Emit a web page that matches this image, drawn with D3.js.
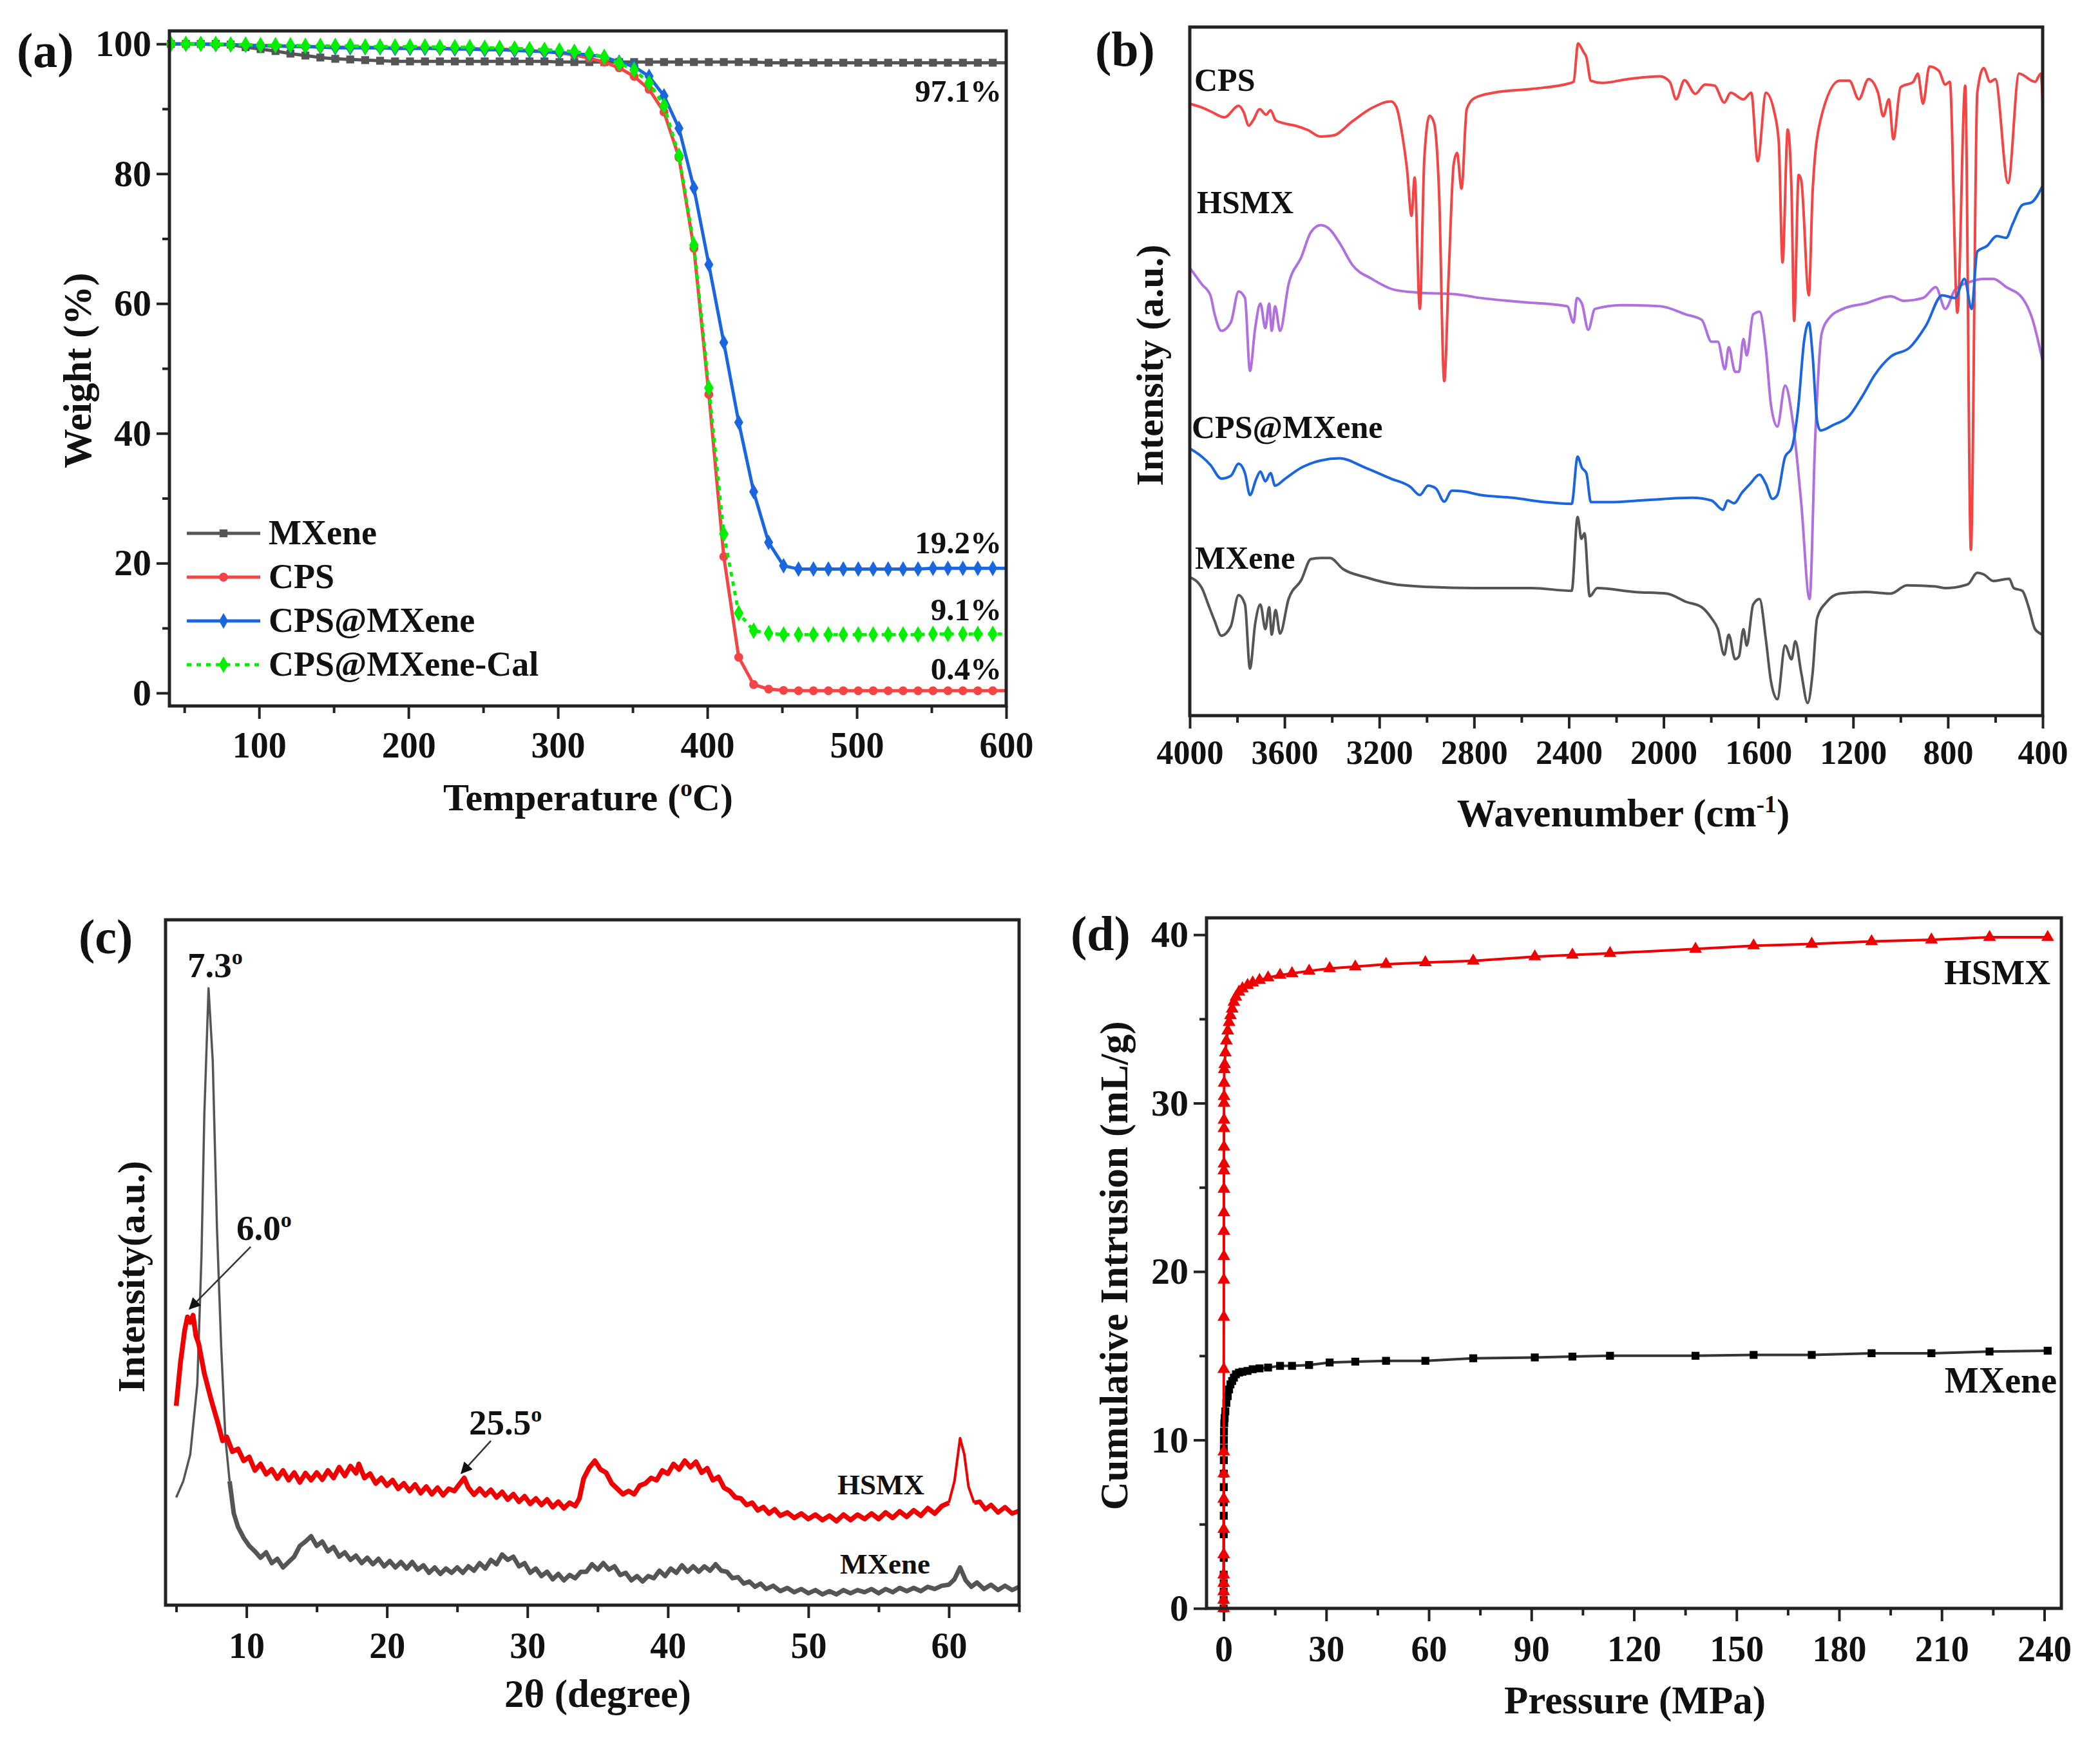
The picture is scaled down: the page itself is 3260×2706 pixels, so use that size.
<!DOCTYPE html>
<html>
<head>
<meta charset="utf-8">
<script src="https://cdn.jsdelivr.net/npm/d3@7/dist/d3.min.js"></script>
<style>
body { margin: 0; background: #fff; }
text { font-family: "Liberation Serif", serif; font-weight: bold; fill: #111; }
</style>
</head>
<body>
<svg id="fig" width="3260" height="2706"></svg>
<script>
// (a) TGA
const tgaTemp = [41,51,61,71,81,91,101,111,121,131,141,151,161,171,181,191,201,211,221,231,241,251,261,271,281,291,301,311,321,331,341,351,361,371,381,391,401,411,421,431,441,451,461,471,481,491,501,511,521,531,541,551,561,571,581,591,600];
const tgaMXene = [100,100,100,100,99.9,99.5,99.2,98.9,98.5,98.2,97.9,97.7,97.6,97.5,97.4,97.3,97.3,97.3,97.3,97.3,97.3,97.3,97.3,97.3,97.3,97.3,97.2,97.2,97.2,97.2,97.2,97.2,97.2,97.2,97.2,97.2,97.2,97.2,97.2,97.2,97.1,97.1,97.1,97.1,97.1,97.1,97.1,97.1,97.1,97.1,97.1,97.1,97.1,97.1,97.1,97.1,97.1];
const tgaCPS = [100,100,100,99.9,99.9,99.8,99.8,99.7,99.7,99.6,99.6,99.5,99.5,99.5,99.4,99.4,99.4,99.4,99.3,99.3,99.3,99.2,99.2,99.1,99,98.8,98.6,98.3,97.8,97.2,96.3,95,93,89.5,82.5,68.5,46,21,5.5,1.3,0.6,0.4,0.35,0.35,0.35,0.35,0.35,0.35,0.35,0.35,0.35,0.35,0.35,0.35,0.35,0.35,0.35];
const tgaComposite = [100,100,100,99.9,99.9,99.8,99.7,99.7,99.6,99.6,99.5,99.4,99.4,99.4,99.4,99.3,99.3,99.3,99.3,99.2,99.2,99.1,99.1,99,98.9,98.8,98.7,98.5,98.3,98,97.2,96.5,95,92,87,77.8,66,54,41.7,31,23.2,19.6,19.1,19.1,19.1,19.1,19.1,19.1,19.1,19.1,19.1,19.2,19.2,19.2,19.2,19.2,19.2];
const tgaCalc = [100,100,100,100,99.9,99.9,99.8,99.8,99.8,99.7,99.7,99.7,99.7,99.6,99.6,99.6,99.6,99.6,99.5,99.5,99.5,99.4,99.4,99.3,99.2,99.1,99,98.8,98.5,98,97,96,94,90.5,82.8,69,47,24.5,12.3,9.6,9.2,9,9,9,9,9,9,9,9,9,9,9.1,9.1,9.1,9.1,9.1,9.1];

// (b) FTIR, [wavenumber, intensity]
const ftirCPS = [[4000,1118],[3949,1111],[3908,1103],[3854,1093],[3794,1114],[3773,1103],[3751,1078],[3732,1088],[3705,1108],[3678,1098],[3659,1106],[3638,1088],[3610,1083],[3556,1078],[3502,1070],[3448,1058],[3394,1060],[3313,1086],[3232,1110],[3151,1122],[3129,1113],[3102,1058],[3083,998],[3064,913],[3051,983],[3029,743],[3010,1018],[2988,1096],[2969,1083],[2948,958],[2926,611],[2907,808],[2886,1008],[2872,1028],[2853,963],[2831,1108],[2799,1128],[2718,1138],[2556,1145],[2399,1155],[2380,1158],[2361,1228],[2339,1213],[2326,1203],[2307,1160],[2258,1156],[2150,1163],[2015,1168],[1974,1158],[1947,1126],[1912,1161],[1866,1136],[1825,1153],[1785,1151],[1744,1120],[1717,1138],[1663,1126],[1630,1138],[1603,1013],[1568,1138],[1533,1103],[1514,1048],[1498,828],[1476,1071],[1460,958],[1449,721],[1430,988],[1419,978],[1387,768],[1371,958],[1338,1088],[1257,1160],[1216,1160],[1176,1126],[1135,1163],[1095,1138],[1073,1095],[1049,1126],[1030,1053],[1000,1148],[946,1158],[927,1173],[905,1118],[878,1186],[838,1178],[811,1153],[792,1158],[760,736],[727,1151],[703,303],[676,1138],[649,1183],[622,1158],[600,1163],[546,973],[500,1173],[432,1158],[408,1173],[400,1118]];
const ftirHSMX = [[4000,818],[3949,788],[3913,768],[3895,733],[3867,703],[3827,718],[3794,775],[3767,763],[3746,630],[3724,708],[3702,753],[3681,708],[3665,753],[3654,703],[3640,748],[3619,703],[3583,788],[3529,838],[3489,883],[3448,896],[3408,888],[3367,863],[3313,823],[3232,798],[3137,778],[3042,773],[2880,770],[2772,763],[2610,756],[2407,748],[2380,718],[2366,763],[2345,753],[2318,705],[2290,743],[2177,750],[2015,748],[1906,733],[1839,723],[1798,683],[1771,683],[1741,633],[1725,673],[1698,628],[1682,628],[1663,688],[1649,658],[1622,733],[1595,738],[1568,668],[1547,568],[1520,528],[1487,603],[1455,538],[1419,388],[1384,213],[1360,508],[1333,698],[1298,728],[1244,743],[1149,753],[1041,766],[987,758],[905,763],[851,783],[811,743],[770,778],[703,793],[649,798],[608,798],[554,783],[486,763],[446,728],[400,648]];
const ftirComposite = [[4000,488],[3949,473],[3913,458],[3867,433],[3827,438],[3794,460],[3767,443],[3746,403],[3719,433],[3702,446],[3681,428],[3659,443],[3640,420],[3597,433],[3529,453],[3448,466],[3367,470],[3259,453],[3151,433],[3069,418],[3029,403],[2994,420],[2961,415],[2926,391],[2894,411],[2853,410],[2772,403],[2637,398],[2501,390],[2388,387],[2363,473],[2345,453],[2326,443],[2307,390],[2231,390],[2069,394],[1879,398],[1798,393],[1749,376],[1730,393],[1703,388],[1668,408],[1636,423],[1595,440],[1568,423],[1541,396],[1520,403],[1487,473],[1460,488],[1433,558],[1406,688],[1387,718],[1371,658],[1352,538],[1338,521],[1284,531],[1216,548],[1162,583],[1108,623],[1041,656],[960,673],[892,713],[824,768],[770,763],[730,798],[700,743],[676,848],[635,858],[594,876],[554,873],[527,898],[486,933],[446,938],[400,968]];
const ftirMXene = [[4000,253],[3949,233],[3922,203],[3895,173],[3867,146],[3827,163],[3794,220],[3767,203],[3746,86],[3724,168],[3702,203],[3681,158],[3665,198],[3654,148],[3638,193],[3619,150],[3583,213],[3529,248],[3489,286],[3448,288],[3408,288],[3354,268],[3259,253],[3137,240],[2988,235],[2772,233],[2556,233],[2388,228],[2363,363],[2347,323],[2334,333],[2312,218],[2280,233],[2123,226],[1987,223],[1906,208],[1839,198],[1798,178],[1771,158],[1744,111],[1725,148],[1698,103],[1682,108],[1663,158],[1649,128],[1622,203],[1595,213],[1568,138],[1547,63],[1520,30],[1487,128],[1460,103],[1444,136],[1419,78],[1392,23],[1371,78],[1352,178],[1311,208],[1257,223],[1149,226],[1041,223],[973,238],[851,236],[811,233],[716,240],[676,261],[649,258],[608,246],[541,250],[522,233],[486,228],[459,198],[432,158],[400,148]];

// (c) XRD, [2theta, intensity]
const xrdHSMX = [[5,370],[5.3,450],[5.6,510],[5.8,535],[6,525],[6.2,538],[6.4,500],[6.6,485],[7,430],[7.5,380],[8,335],[8.3,305],[8.6,312],[9,285],[9.4,290],[9.8,268],[10.2,275],[10.6,250],[11,262],[11.4,243],[11.8,252],[12.2,235],[12.6,250],[13,232],[13.4,246],[13.8,228],[14.2,245],[14.6,232],[15,246],[15.4,233],[15.8,250],[16.2,236],[16.6,256],[17,240],[17.4,258],[17.8,245],[18,262],[18.4,236],[18.8,244],[19.2,226],[19.6,236],[20,222],[20.4,232],[20.8,216],[21.2,226],[21.6,212],[22,224],[22.4,208],[22.8,220],[23.2,206],[23.6,218],[24,204],[24.4,216],[24.8,212],[25.2,226],[25.5,236],[25.8,218],[26.2,205],[26.6,216],[27,204],[27.4,214],[27.8,200],[28.2,210],[28.6,196],[29,206],[29.4,192],[29.8,202],[30.2,188],[30.6,198],[31,186],[31.4,196],[31.8,182],[32.2,192],[32.6,180],[33,190],[33.4,184],[33.7,198],[34,235],[34.4,255],[34.8,268],[35.2,252],[35.6,246],[36,226],[36.4,216],[36.8,206],[37.2,212],[37.6,206],[38,222],[38.4,226],[38.8,236],[39.2,232],[39.6,250],[40,244],[40.4,262],[40.8,252],[41.2,268],[41.6,256],[42,266],[42.4,246],[42.8,254],[43.2,232],[43.6,238],[44,218],[44.4,212],[44.8,200],[45.2,198],[45.6,186],[46,190],[46.4,176],[46.8,182],[47.2,170],[47.6,178],[48,166],[48.5,172],[49,162],[49.5,170],[50,160],[50.5,168],[51,158],[51.5,166],[52,156],[52.5,168],[53,158],[53.5,168],[54,160],[54.5,170],[55,160],[55.5,172],[56,162],[56.5,174],[57,164],[57.5,176],[58,166],[58.5,180],[59,170],[59.5,184],[60,190],[60.4,230],[60.8,310],[61.1,280],[61.4,220],[61.8,190],[62.2,192],[62.6,178],[63,186],[63.5,172],[64,182],[64.5,170],[65,175]];
const xrdMXene = [[5,200],[5.5,230],[6,280],[6.5,410],[6.8,650],[7,910],[7.3,1145],[7.6,1010],[7.9,700],[8.2,480],[8.5,310],[8.8,230],[9.1,170],[9.4,145],[9.8,125],[10.2,110],[10.6,100],[11,88],[11.4,98],[11.8,78],[12.2,86],[12.6,70],[13,80],[13.4,90],[13.8,110],[14.2,118],[14.6,128],[15,110],[15.4,118],[15.8,100],[16.2,108],[16.6,90],[17,98],[17.4,84],[17.8,92],[18.2,78],[18.6,88],[19,76],[19.4,86],[19.8,72],[20.2,82],[20.6,70],[21,80],[21.4,68],[21.8,80],[22.2,66],[22.6,74],[23,60],[23.4,70],[23.8,58],[24.2,68],[24.6,60],[25,70],[25.4,60],[25.8,72],[26.2,64],[26.6,78],[27,68],[27.4,84],[27.8,76],[28.2,94],[28.6,84],[29,90],[29.4,72],[29.8,78],[30.2,60],[30.6,68],[31,54],[31.4,62],[31.8,48],[32.2,58],[32.6,46],[33,56],[33.4,50],[33.8,62],[34.2,62],[34.6,76],[35,66],[35.4,78],[35.8,66],[36.2,72],[36.6,56],[37,60],[37.4,46],[37.8,54],[38.2,44],[38.6,54],[39,50],[39.4,64],[39.8,54],[40.2,68],[40.6,60],[41,74],[41.4,62],[41.8,72],[42.2,62],[42.6,72],[43,64],[43.4,76],[43.8,64],[44.2,62],[44.6,50],[45,52],[45.4,40],[45.8,44],[46.2,34],[46.6,40],[47,30],[47.5,36],[48,26],[48.5,32],[49,24],[49.5,30],[50,22],[50.5,28],[51,20],[51.5,26],[52,20],[52.5,28],[53,22],[53.5,28],[54,24],[54.5,30],[55,22],[55.5,30],[56,24],[56.5,32],[57,26],[57.5,32],[58,26],[58.5,34],[59,30],[59.5,36],[60,38],[60.4,48],[60.8,70],[61.2,46],[61.6,34],[62,42],[62.5,30],[63,38],[63.5,28],[64,36],[64.5,28],[65,34]];

// (d) Intrusion
const hgHSMX = [[0,0],[0.01,0.5],[0.01,1],[0.02,1.5],[0.02,2],[0.03,3.2],[0.03,4.7],[0.04,6.5],[0.04,8],[0.05,9.3],[0.05,14.2],[0.06,17.3],[0.06,19.5],[0.07,20.9],[0.07,22.4],[0.08,23.5],[0.08,24.9],[0.09,26],[0.09,26.4],[0.1,27.4],[0.1,28.5],[0.11,29],[0.12,30],[0.13,30.4],[0.15,31.2],[0.18,32],[0.3,32.3],[0.5,33],[0.8,33.7],[1.2,34.3],[1.6,34.8],[2,35.2],[2.5,35.6],[3,36],[3.6,36.3],[4.5,36.6],[5.5,36.8],[7,37],[8.5,37.15],[10.5,37.3],[13,37.45],[16.5,37.6],[20,37.7],[25,37.85],[31,38],[38.5,38.1],[47.5,38.25],[59,38.35],[73,38.45],[91,38.7],[102,38.8],[113,38.9],[138,39.15],[155,39.35],[172,39.45],[189.5,39.6],[207,39.7],[224,39.85],[241,39.85]];
const hgMXene = [[0,0],[0.01,0.5],[0.01,1],[0.02,1.5],[0.02,2],[0.03,3],[0.03,4.4],[0.04,5.5],[0.04,6.3],[0.05,7.2],[0.05,8],[0.06,8.8],[0.07,9.5],[0.08,10],[0.1,10.5],[0.18,11],[0.3,11.3],[0.5,11.7],[0.8,12.2],[1.2,12.6],[1.6,13],[2,13.3],[2.5,13.5],[3,13.7],[3.6,13.9],[4.5,14],[5.5,14.05],[7,14.1],[8.5,14.2],[10.5,14.25],[13,14.3],[16.5,14.4],[20,14.4],[25,14.45],[31,14.6],[38.5,14.65],[47.5,14.7],[59,14.7],[73,14.85],[91,14.9],[102,14.95],[113,15],[138,15],[155,15.05],[172,15.05],[189.5,15.15],[207,15.15],[224,15.25],[241,15.3]];

const svg = d3.select("#fig");
const axisColor = "#222";
const red = "#f44444", grey = "#555555", blue = "#1a66e0", green = "#00f000", purple = "#b070e0";

function label(x, y, txt, size, anchor = "start", rotate = false, sup = null, after = "") {
    const t = svg.append("text")
        .attr("font-size", size)
        .attr("text-anchor", anchor)
        .attr("transform", rotate ? `translate(${x},${y}) rotate(-90)` : `translate(${x},${y})`);
    t.append("tspan").text(txt);
    if (sup) {
        t.append("tspan").attr("dy", -size * 0.36).attr("font-size", size * 0.62).text(sup);
        if (after) t.append("tspan").attr("dy", size * 0.36).text(after);
    }
    return t;
}

// draws frame, axes and ticks for one panel, returns the scales
function makePanel(box, xDomain, yDomain, ticks) {
    const g = svg.append("g");
    const x = d3.scaleLinear().domain(xDomain).range([box.x0, box.x1]);
    const y = d3.scaleLinear().domain(yDomain).range([box.y1, box.y0]);
    const fs = ticks.size;

    g.append("g").attr("transform", `translate(0,${box.y1})`)
        .call(d3.axisBottom(x).tickValues(ticks.xMinor).tickSize(11).tickFormat(""));
    const xm = g.append("g").attr("transform", `translate(0,${box.y1})`)
        .call(d3.axisBottom(x).tickValues(ticks.x).tickSize(20)
            .tickPadding(ticks.baseline - box.y1 - 20 - 0.71 * fs).tickFormat(d3.format("d")));
    xm.selectAll("text").attr("font-size", fs);

    if (ticks.y) {
        g.append("g").attr("transform", `translate(${box.x0},0)`)
            .call(d3.axisLeft(y).tickValues(ticks.yMinor).tickSize(11).tickFormat(""));
        const yl = g.append("g").attr("transform", `translate(${box.x0},0)`)
            .call(d3.axisLeft(y).tickValues(ticks.y).tickSize(20).tickPadding(8).tickFormat(d3.format("d")));
        yl.selectAll("text").attr("font-size", ticks.ySize);
    }
    g.selectAll(".domain").remove();
    g.selectAll("line").attr("stroke", axisColor).attr("stroke-width", 4);

    const marks = svg.append("g");
    svg.append("rect")
        .attr("x", box.x0).attr("y", box.y0)
        .attr("width", box.x1 - box.x0).attr("height", box.y1 - box.y0)
        .attr("fill", "none").attr("stroke", axisColor).attr("stroke-width", 5);
    return { x, y, marks, box };
}

function drawLine(p, data, color, width, dash, curve) {
    const line = d3.line().x(d => p.x(d[0])).y(d => p.y(d[1])).curve(curve || d3.curveLinear);
    const path = p.marks.append("path").datum(data)
        .attr("d", line)
        .attr("fill", "none")
        .attr("stroke", color)
        .attr("stroke-width", width)
        .attr("stroke-linejoin", "round");
    if (dash) path.attr("stroke-dasharray", dash);
}

function drawSymbols(p, data, color, type, size) {
    p.marks.append("g").selectAll("path").data(data).join("path")
        .attr("d", d3.symbol().type(type).size(size))
        .attr("transform", d => `translate(${p.x(d[0])},${p.y(d[1])})`)
        .attr("fill", color);
}

// ---- panel a
function drawTGA() {
    const p = makePanel({ x0: 263, x1: 1562, y0: 48, y1: 1096 }, [40, 600], [-2, 102], {
        x: [100, 200, 300, 400, 500, 600], xMinor: [50, 150, 250, 350, 450, 550],
        y: [0, 20, 40, 60, 80, 100], yMinor: [10, 30, 50, 70, 90],
        size: 56, ySize: 58, baseline: 1176
    });
    const series = [
        { name: "MXene", values: tgaMXene, color: grey, sym: d3.symbolSquare, size: 150 },
        { name: "CPS", values: tgaCPS, color: red, sym: d3.symbolCircle, size: 150 },
        { name: "CPS@MXene", values: tgaComposite, color: blue, sym: d3.symbolDiamond, size: 170 },
        { name: "CPS@MXene-Cal", values: tgaCalc, color: green, sym: d3.symbolDiamond, size: 190, dash: "7 8" }
    ];
    series.forEach((s, i) => {
        const pts = tgaTemp.map((t, k) => [t, s.values[k]]);
        drawLine(p, pts, s.color, 5, s.dash);
        drawSymbols(p, pts.slice(0, -1), s.color, s.sym, s.size);
        // legend
        const ly = 828 + i * 68;
        p.marks.append("line").attr("x1", 290).attr("x2", 404).attr("y1", ly).attr("y2", ly)
            .attr("stroke", s.color).attr("stroke-width", 5).attr("stroke-dasharray", s.dash || null);
        p.marks.append("path").attr("d", d3.symbol().type(s.sym).size(s.size)())
            .attr("transform", `translate(347,${ly})`).attr("fill", s.color);
        label(417, ly + 17, s.name, 54);
    });
    label(26, 104, "(a)", 76);
    label(141, 575, "Weight (%)", 61, "middle", true);
    label(913, 1258, "Temperature (", 60, "middle", false, "o", "C)");
    label(1555, 158, "97.1%", 49, "end");
    label(1555, 859, "19.2%", 49, "end");
    label(1555, 963, "9.1%", 49, "end");
    label(1555, 1055, "0.4%", 49, "end");
}

// ---- panel b
function drawFTIR() {
    const p = makePanel({ x0: 1847, x1: 3171, y0: 42, y1: 1111 }, [4000, 400], [0, 1258], {
        x: [4000, 3600, 3200, 2800, 2400, 2000, 1600, 1200, 800, 400],
        xMinor: [3800, 3400, 3000, 2600, 2200, 1800, 1400, 1000, 600],
        size: 52, baseline: 1186
    });
    const smooth = d3.curveMonotoneX;
    drawLine(p, ftirMXene, grey, 4, null, smooth);
    drawLine(p, ftirHSMX, purple, 4, null, smooth);
    drawLine(p, ftirCPS, red, 4, null, smooth);
    drawLine(p, ftirComposite, blue, 4, null, smooth);
    label(1700, 102, "(b)", 76);
    label(1805, 567, "Intensity (a.u.)", 60, "middle", true);
    label(2520, 1283, "Wavenumber (cm", 61, "middle", false, "-1", ")");
    label(1854, 141, "CPS", 50);
    label(1858, 331, "HSMX", 50);
    label(1850, 680, "CPS@MXene", 50);
    label(1855, 883, "MXene", 50);
}

// ---- panel c
function drawXRD() {
    const p = makePanel({ x0: 257, x1: 1582, y0: 1428, y1: 2492 }, [4.24, 65], [0, 1272], {
        x: [10, 20, 30, 40, 50, 60], xMinor: [5, 15, 25, 35, 45, 55, 65],
        size: 56, baseline: 2574
    });
    // noise band is wide on the baseline, the sharp peaks are thin
    drawLine(p, xrdMXene.filter(d => d[0] <= 8.8), grey, 3.5);
    drawLine(p, xrdMXene.filter(d => d[0] >= 8.8), grey, 7);
    drawLine(p, xrdHSMX.filter(d => d[0] <= 60), "#f00000", 7.5);
    drawLine(p, xrdHSMX.filter(d => d[0] >= 60 && d[0] <= 61.8), "#f00000", 4);
    drawLine(p, xrdHSMX.filter(d => d[0] >= 61.8), "#f00000", 7);
    svg.append("defs").append("marker").attr("id", "arrow")
        .attr("viewBox", "0 0 10 10").attr("refX", 9).attr("refY", 5)
        .attr("orient", "auto")
        .attr("markerUnits", "userSpaceOnUse")
        .attr("markerWidth", 30).attr("markerHeight", 18)
        .append("path").attr("d", "M0,0L10,5L0,10Z").attr("fill", "#111");
    const arrows = [[[10.3, 665], [5.95, 550]], [[27.4, 305], [25.3, 245]]];
    arrows.forEach(a => {
        p.marks.append("line")
            .attr("x1", p.x(a[0][0])).attr("y1", p.y(a[0][1]))
            .attr("x2", p.x(a[1][0])).attr("y2", p.y(a[1][1]))
            .attr("stroke", "#333").attr("stroke-width", 2.5).attr("marker-end", "url(#arrow)");
    });
    label(122, 1480, "(c)", 76);
    label(224, 1982, "Intensity(a.u.)", 60, "middle", true);
    label(928, 2650, "2θ (degree)", 61, "middle");
    label(291, 1517, "7.3", 55, "start", false, "o");
    label(367, 1925, "6.0", 55, "start", false, "o");
    label(728, 2227, "25.5", 55, "start", false, "o");
    label(1300, 2320, "HSMX", 45);
    label(1304, 2443, "MXene", 45);
}

// ---- panel d
function drawIntrusion() {
    const p = makePanel({ x0: 1873, x1: 3200, y0: 1425, y1: 2497 }, [-5, 245], [0, 41], {
        x: d3.range(0, 241, 30), xMinor: d3.range(15, 240, 30),
        y: [0, 10, 20, 30, 40], yMinor: [5, 15, 25, 35],
        size: 56, ySize: 58, baseline: 2579
    });
    drawLine(p, hgMXene, "#333333", 4);
    drawSymbols(p, hgMXene, "#000", d3.symbolSquare, 150);
    drawLine(p, hgHSMX, "#f00000", 4);
    drawSymbols(p, hgHSMX, "#f00000", d3.symbolTriangle, 170);
    label(1662, 1475, "(d)", 76);
    label(1750, 1965, "Cumulative Intrusion (mL/g)", 61, "middle", true);
    label(2538, 2660, "Pressure (MPa)", 61, "middle");
    label(3183, 1528, "HSMX", 55, "end");
    label(3193, 2162, "MXene", 56, "end");
}

drawTGA();
drawFTIR();
drawXRD();
drawIntrusion();
</script>
</body>
</html>
